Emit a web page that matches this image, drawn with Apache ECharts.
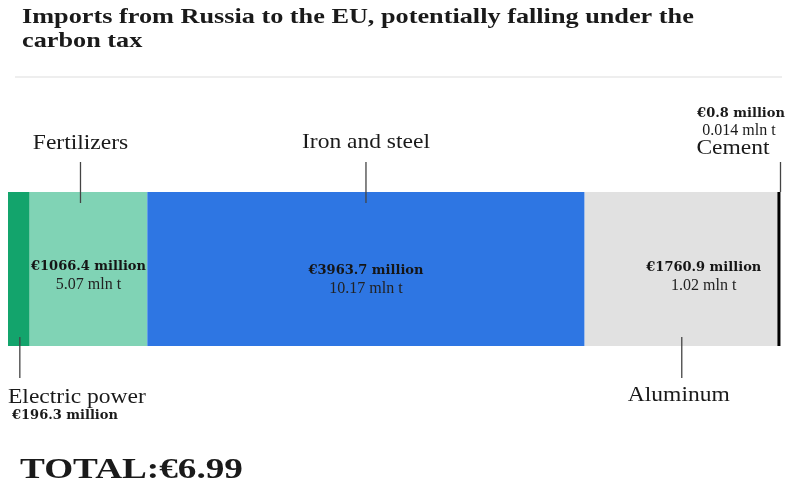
<!DOCTYPE html>
<html>
<head>
<meta charset="utf-8">
<script src="https://cdn.jsdelivr.net/npm/echarts@6/dist/echarts.min.js"></script>
<style>
  html, body { margin: 0; padding: 0; background: #fff; }
  #chart { width: 787px; height: 488px; }
</style>
</head>
<body>
<div id="chart"></div>
<script>
var categories = ['Electric power', 'Fertilizers', 'Iron and steel', 'Aluminum', 'Cement'];
var valuesMln = [196.3, 1066.4, 3963.7, 1760.9, 0.8];
var volumesMt = ['', '5.07', '10.17', '1.02', '0.014'];
var segmentColors = ['#13a46c', '#80d3b5', '#2e76e3', '#e1e1e1', '#000000'];

var total = valuesMln.reduce(function(a, b) { return a + b; }, 0);
var serif = 'Liberation Serif, Times New Roman, serif';
var wideSerif = 'DejaVu Serif, serif';

// where the inside labels sit relative to the segment centre
var labelOffsets = { 1: [0, 7], 2: [0, 11], 3: [22, 8] };

var series = categories.map(function(name, i) {
  var isCement = i === 4;
  return {
    name: name,
    type: 'bar',
    stack: 'all',
    barWidth: 154,
    data: [valuesMln[i]],
    // cement is too small to see, the border gives it its thin black edge
    itemStyle: isCement ? { color: '#000', borderColor: '#000', borderWidth: 3 } : { color: segmentColors[i] },
    label: {
      show: !!labelOffsets[i],
      position: 'inside',
      offset: labelOffsets[i] || [0, 0],
      formatter: '{v|€' + valuesMln[i].toFixed(1) + ' million}\n{t|' + volumesMt[i] + ' mln t}',
      rich: {
        v: { fontFamily: wideSerif, fontWeight: 'bold', fontSize: 13, color: '#151515', lineHeight: 18 },
        t: { fontFamily: serif, fontSize: 16, color: '#222', lineHeight: 18 }
      }
    }
  };
});

var chart = echarts.init(document.getElementById('chart'));
chart.setOption({
  animation: false,
  grid: { left: 8, right: 8, top: 192, height: 154 },
  xAxis: { type: 'value', min: 0, max: total, show: false },
  yAxis: { type: 'category', data: ['EU imports'], show: false },
  series: series
});

// annotation positions come from the chart's own scales
var cum = 0, mids = [], ends = [];
valuesMln.forEach(function(v) {
  var start = cum;
  cum += v;
  mids.push(chart.convertToPixel({ xAxisIndex: 0 }, (start + cum) / 2));
  ends.push(chart.convertToPixel({ xAxisIndex: 0 }, cum));
});
var yc = chart.convertToPixel({ yAxisIndex: 0 }, 0);
var barTop = yc - 77, barBottom = yc + 77;

function line(x, y1, y2) {
  return { type: 'line', silent: true, z: 100, shape: { x1: x, y1: y1, x2: x, y2: y2 },
    style: { stroke: '#444', lineWidth: 1.3 } };
}
function text(str, x, y, size, weight, align, family, sx) {
  return { type: 'text', silent: true, z: 100, x: x, y: y, scaleX: sx || 1,
    style: { text: str, font: (weight || 'normal') + ' ' + size + 'px ' + (family || serif),
      fill: '#1a1a1a', align: align || 'center', verticalAlign: 'middle', lineHeight: 24 } };
}

chart.setOption({
  graphic: [
    text('Imports from Russia to the EU, potentially falling under the\ncarbon tax', 22, 30, 21, 'bold', 'left', serif, 1.25),
    { type: 'line', silent: true, shape: { x1: 15, y1: 77, x2: 782, y2: 77 },
      style: { stroke: '#e8e8e8', lineWidth: 1.5 } },
    line(mids[1] - 8, barTop - 30, barTop + 11),
    text(categories[1], mids[1] - 8, 143, 21, 'normal', 'center', serif, 1.12),
    line(mids[2], barTop - 30, barTop + 11),
    text(categories[2], mids[2], 142, 21, 'normal', 'center', serif, 1.12),
    line(ends[4] + 1.5, barTop - 30, barTop),
    text('€' + valuesMln[4].toFixed(1) + ' million', ends[4] - 38, 114, 13, 'bold', 'center', wideSerif),
    text(volumesMt[4] + ' mln t', ends[4] - 40, 131, 16),
    text(categories[4], ends[4] - 46, 148, 21, 'normal', 'center', serif, 1.12),
    line(mids[0] + 1, barBottom - 9, barBottom + 32),
    text(categories[0], 8, 397, 21, 'normal', 'left', serif, 1.12),
    text('€' + valuesMln[0].toFixed(1) + ' million', 12, 416, 13, 'bold', 'left', wideSerif),
    line(mids[3], barBottom - 9, barBottom + 32),
    text(categories[3], mids[3] - 3, 395, 21, 'normal', 'center', serif, 1.12),
    text('TOTAL:€' + (total / 1000).toFixed(2), 20, 470, 30, 'bold', 'left', serif, 1.24)
  ]
});
</script>
</body>
</html>
